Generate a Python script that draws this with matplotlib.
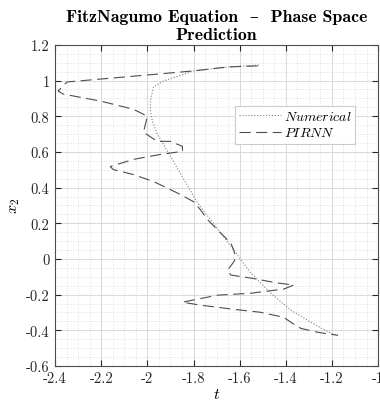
import numpy as np
import matplotlib.pyplot as plt
from matplotlib.ticker import MultipleLocator, FormatStrFormatter

plt.rcParams['font.family'] = 'serif'
plt.rcParams['font.serif'] = ['cmr10']
plt.rcParams['mathtext.fontset'] = 'cm'
plt.rcParams['axes.unicode_minus'] = False

# 수치해 (Numerical)
num_x = [-1.517, -1.648, -1.800, -1.930, -1.974, -1.987, -1.987, -1.978, -1.957, -1.930,
         -1.887, -1.783, -1.626, -1.552, -1.465, -1.378, -1.291, -1.204, -1.174]
num_y = [1.087, 1.076, 1.054, 0.997, 0.963, 0.885, 0.828, 0.772, 0.699, 0.642,
         0.546, 0.315, 0.051, -0.079, -0.192, -0.287, -0.355, -0.417, -0.428]

# 예측 (PIRNN)
pir_x = [-1.522, -1.652, -1.800, -2.000, -2.204, -2.348, -2.387, -2.365, -2.204, -2.061,
         -2.000, -2.017, -1.957, -1.900, -1.848, -1.848, -1.943, -2.061, -2.161, -2.148,
         -2.061, -1.974, -1.900, -1.857, -1.800, -1.770, -1.739, -1.696, -1.639, -1.626,
         -1.617, -1.626, -1.652, -1.639, -1.552, -1.435, -1.365, -1.409, -1.552, -1.696,
         -1.848, -1.770, -1.626, -1.509, -1.409, -1.378, -1.335, -1.261, -1.174]
pir_y = [1.082, 1.076, 1.054, 1.031, 1.008, 0.992, 0.941, 0.924, 0.885, 0.839,
         0.800, 0.710, 0.659, 0.659, 0.631, 0.603, 0.586, 0.558, 0.518, 0.501,
         0.473, 0.434, 0.389, 0.361, 0.321, 0.276, 0.220, 0.163, 0.090, 0.051,
         0.006, -0.017, -0.062, -0.090, -0.107, -0.135, -0.146, -0.169, -0.192, -0.203,
         -0.242, -0.259, -0.282, -0.299, -0.327, -0.355, -0.389, -0.411, -0.428]

fig = plt.figure(figsize=(3.8, 4.02), dpi=100)
ax = fig.add_axes([0.145, 0.087, 0.850, 0.799])

ax.plot(num_x, num_y, color='0.5', linestyle=':', linewidth=0.8, label='$Numerical$')
ax.plot(pir_x, pir_y, color='0.3', linestyle=(0, (10, 5)), linewidth=0.8, label='$PIRNN$')

ax.set_xlim(-2.4, -1.0)
ax.set_ylim(-0.6, 1.2)
ax.xaxis.set_major_locator(MultipleLocator(0.2))
ax.yaxis.set_major_locator(MultipleLocator(0.2))
ax.xaxis.set_minor_locator(MultipleLocator(0.05))
ax.yaxis.set_minor_locator(MultipleLocator(0.05))
ax.xaxis.set_major_formatter(FormatStrFormatter('%g'))
ax.yaxis.set_major_formatter(FormatStrFormatter('%g'))

ax.grid(which='major', color='0.85', linewidth=0.7)
ax.grid(which='minor', color='0.85', linestyle=':', linewidth=0.6)
ax.tick_params(which='both', direction='in', top=True, right=True, labelsize=10.5, colors='0.15')
ax.tick_params(which='minor', length=0)
ax.tick_params(which='major', length=4, pad=4)
for s in ax.spines.values():
    s.set_color('0.3')

ax.set_xlabel('$t$', fontsize=11.5, labelpad=1)
ax.set_ylabel('$x_2$', fontsize=11.5, labelpad=3)
ax.set_title('FitzNagumo Equation  \u2013  Phase Space\nPrediction', family=['cmb10', 'DejaVu Serif'],
             fontsize=12.8, linespacing=1.25, pad=4)

leg = ax.legend(loc='upper right', bbox_to_anchor=(0.93, 0.81), fontsize=10,
                fancybox=False, framealpha=1, edgecolor='0.8',
                handlelength=3.0, handletextpad=0.2, borderpad=0.3, labelspacing=0.25,
                borderaxespad=0)
leg.get_frame().set_linewidth(0.8)

fig.savefig('out.png', dpi=100)
